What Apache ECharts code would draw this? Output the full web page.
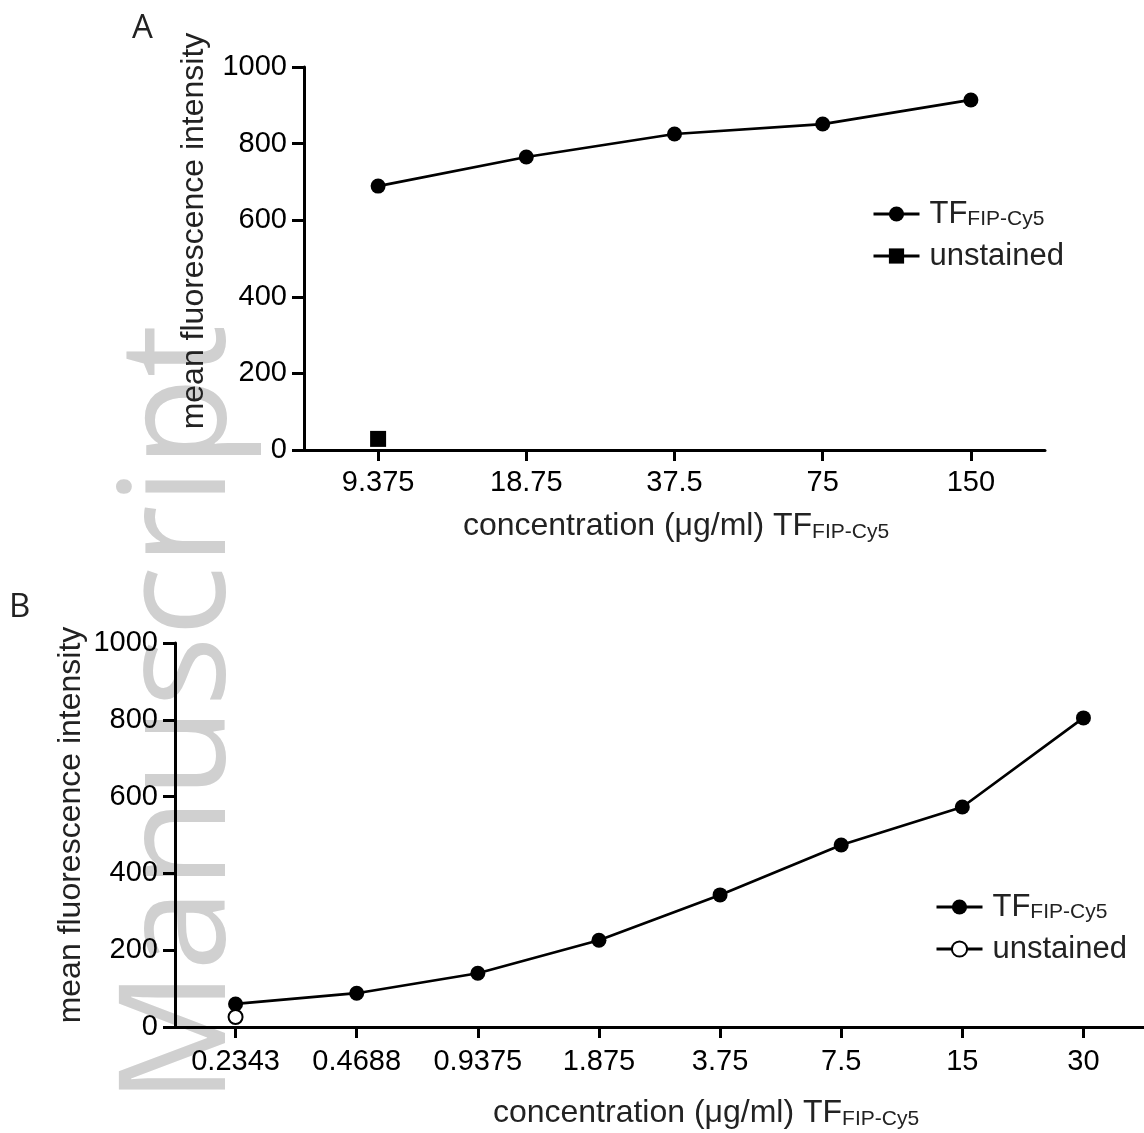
<!DOCTYPE html>
<html>
<head>
<meta charset="utf-8">
<script src="https://cdn.jsdelivr.net/npm/echarts@6/dist/echarts.min.js"></script>
<style>
html,body{margin:0;padding:0;background:#fff}
#chart{width:1144px;height:1133px}
</style>
</head>
<body>
<div id="chart"></div>
<script>
var FONT = '"Liberation Sans", Arial, sans-serif';

// panel A
var dosesA = ['9.375', '18.75', '37.5', '75', '150'];
var stainedA = [689, 765, 825, 851, 914];
var unstainedA = [29, '-', '-', '-', '-'];

// panel B
var dosesB = ['0.2343', '0.4688', '0.9375', '1.875', '3.75', '7.5', '15', '30'];
var stainedB = [60, 88, 140, 226, 344, 474, 573, 805];
var unstainedB = [26, '-', '-', '-', '-', '-', '-', '-'];

var yMin = 0, yMax = 1000, yStep = 200;

function yAxisOpt(idx){
    return {
        gridIndex: idx, type: 'value', min: yMin, max: yMax, interval: yStep,
        axisLine: {show: true, lineStyle: {color: '#000', width: 3}},
        axisTick: {show: true, length: 12, lineStyle: {color: '#000', width: 3}},
        splitLine: {show: false},
        axisLabel: {color: '#000', fontSize: 29, fontFamily: FONT, margin: 17,
            formatter: function(v){ return String(v); }}
    };
}
function xAxisOpt(idx, cats, margin){
    return {
        gridIndex: idx, type: 'category', data: cats, boundaryGap: true,
        axisLine: {show: true, lineStyle: {color: '#000', width: 3}},
        axisTick: {show: true, alignWithLabel: true, length: 11, lineStyle: {color: '#000', width: 3}},
        splitLine: {show: false},
        axisLabel: {color: '#000', fontSize: 29, fontFamily: FONT, margin: margin}
    };
}
function lineSeries(name, idx, data, symbol, size){
    return {
        name: name, type: 'line', xAxisIndex: idx, yAxisIndex: idx, data: data,
        symbol: symbol, symbolSize: size, showSymbol: true,
        lineStyle: {color: '#000', width: 2.7},
        itemStyle: {color: '#000', borderColor: '#000', borderWidth: symbol == 'emptyCircle' ? 2.5 : 0},
        z: symbol == 'emptyCircle' ? 4 : 3
    };
}

var rich = {
    m: {fontSize: 31, color: '#222', fontFamily: FONT, lineHeight: 32, verticalAlign: 'bottom'},
    s: {fontSize: 21, color: '#222', fontFamily: FONT, lineHeight: 32, verticalAlign: 'bottom'}
};
function legendLabel(name){
    return name.indexOf('TF') > -1 ? '{m|TF}{s|FIP-Cy5}' : '{m|unstained}';
}
function legendOpt(names, left, top){
    return {
        data: names, orient: 'vertical', left: left, top: top,
        itemWidth: 46, itemHeight: 19, itemGap: 11,
        formatter: legendLabel, selectedMode: false,
        lineStyle: {width: 3},
        textStyle: {rich: rich, padding: [0, 0, 0, 5]}
    };
}
function vName(text, x, y){
    return {
        type: 'text', x: x, y: y, rotation: Math.PI / 2,
        style: {text: text, x: 0, y: 0, font: '32px ' + FONT, fill: '#222',
            align: 'center', verticalAlign: 'middle', textAlign: 'center', textVerticalAlign: 'middle'}
    };
}
function hName(x, y){
    return {
        type: 'text', x: x, y: y,
        style: {text: '{m|concentration (μg/ml) TF}{s|FIP-Cy5}', rich: {
                m: {fontSize: 32, fill: '#222', color: '#222', fontFamily: FONT, lineHeight: 33, verticalAlign: 'bottom'},
                s: {fontSize: 21, fill: '#222', color: '#222', fontFamily: FONT, lineHeight: 33, verticalAlign: 'bottom'}
            }, x: 0, y: 0,
            align: 'center', verticalAlign: 'middle', textAlign: 'center', textVerticalAlign: 'middle'}
    };
}

var chart = echarts.init(document.getElementById('chart'));
chart.setOption({
    animation: false,
    backgroundColor: '#fff',
    grid: [
        {left: 304, top: 67, width: 741, height: 383},
        {left: 175, top: 643, width: 978, height: 384}
    ],
    xAxis: [xAxisOpt(0, dosesA, 18), xAxisOpt(1, dosesB, 20)],
    yAxis: [yAxisOpt(0), yAxisOpt(1)],
    legend: [
        legendOpt(['A-TF', 'A-unstained'], 867, 194),
        legendOpt(['B-TF', 'B-unstained'], 930, 887)
    ],
    graphic: [
        {
            type: 'text', x: 183, y: 1104, rotation: Math.PI / 2, z: -100,
            style: {text: 'Manuscript', x: 0, y: 0, font: '148px "Open Sans", sans-serif', fill: '#d0d0d0',
                align: 'left', verticalAlign: 'middle', textAlign: 'left', textVerticalAlign: 'middle'}
        },
        {type: 'text', left: 132, top: 12, style: {text: 'A', font: '33px "Open Sans", sans-serif', fill: '#222'}},
        {type: 'text', left: 9, top: 591, style: {text: 'B', font: '33px "Open Sans", sans-serif', fill: '#222'}},
        vName('mean fluorescence intensity', 194, 231),
        vName('mean fluorescence intensity', 71, 825),
        hName(676, 526),
        hName(706, 1113)
    ],
    series: [
        lineSeries('A-TF', 0, stainedA, 'circle', 15),
        lineSeries('A-unstained', 0, unstainedA, 'rect', 16),
        lineSeries('B-TF', 1, stainedB, 'circle', 15),
        lineSeries('B-unstained', 1, unstainedB, 'emptyCircle', 14)
    ]
});
</script>
</body>
</html>
